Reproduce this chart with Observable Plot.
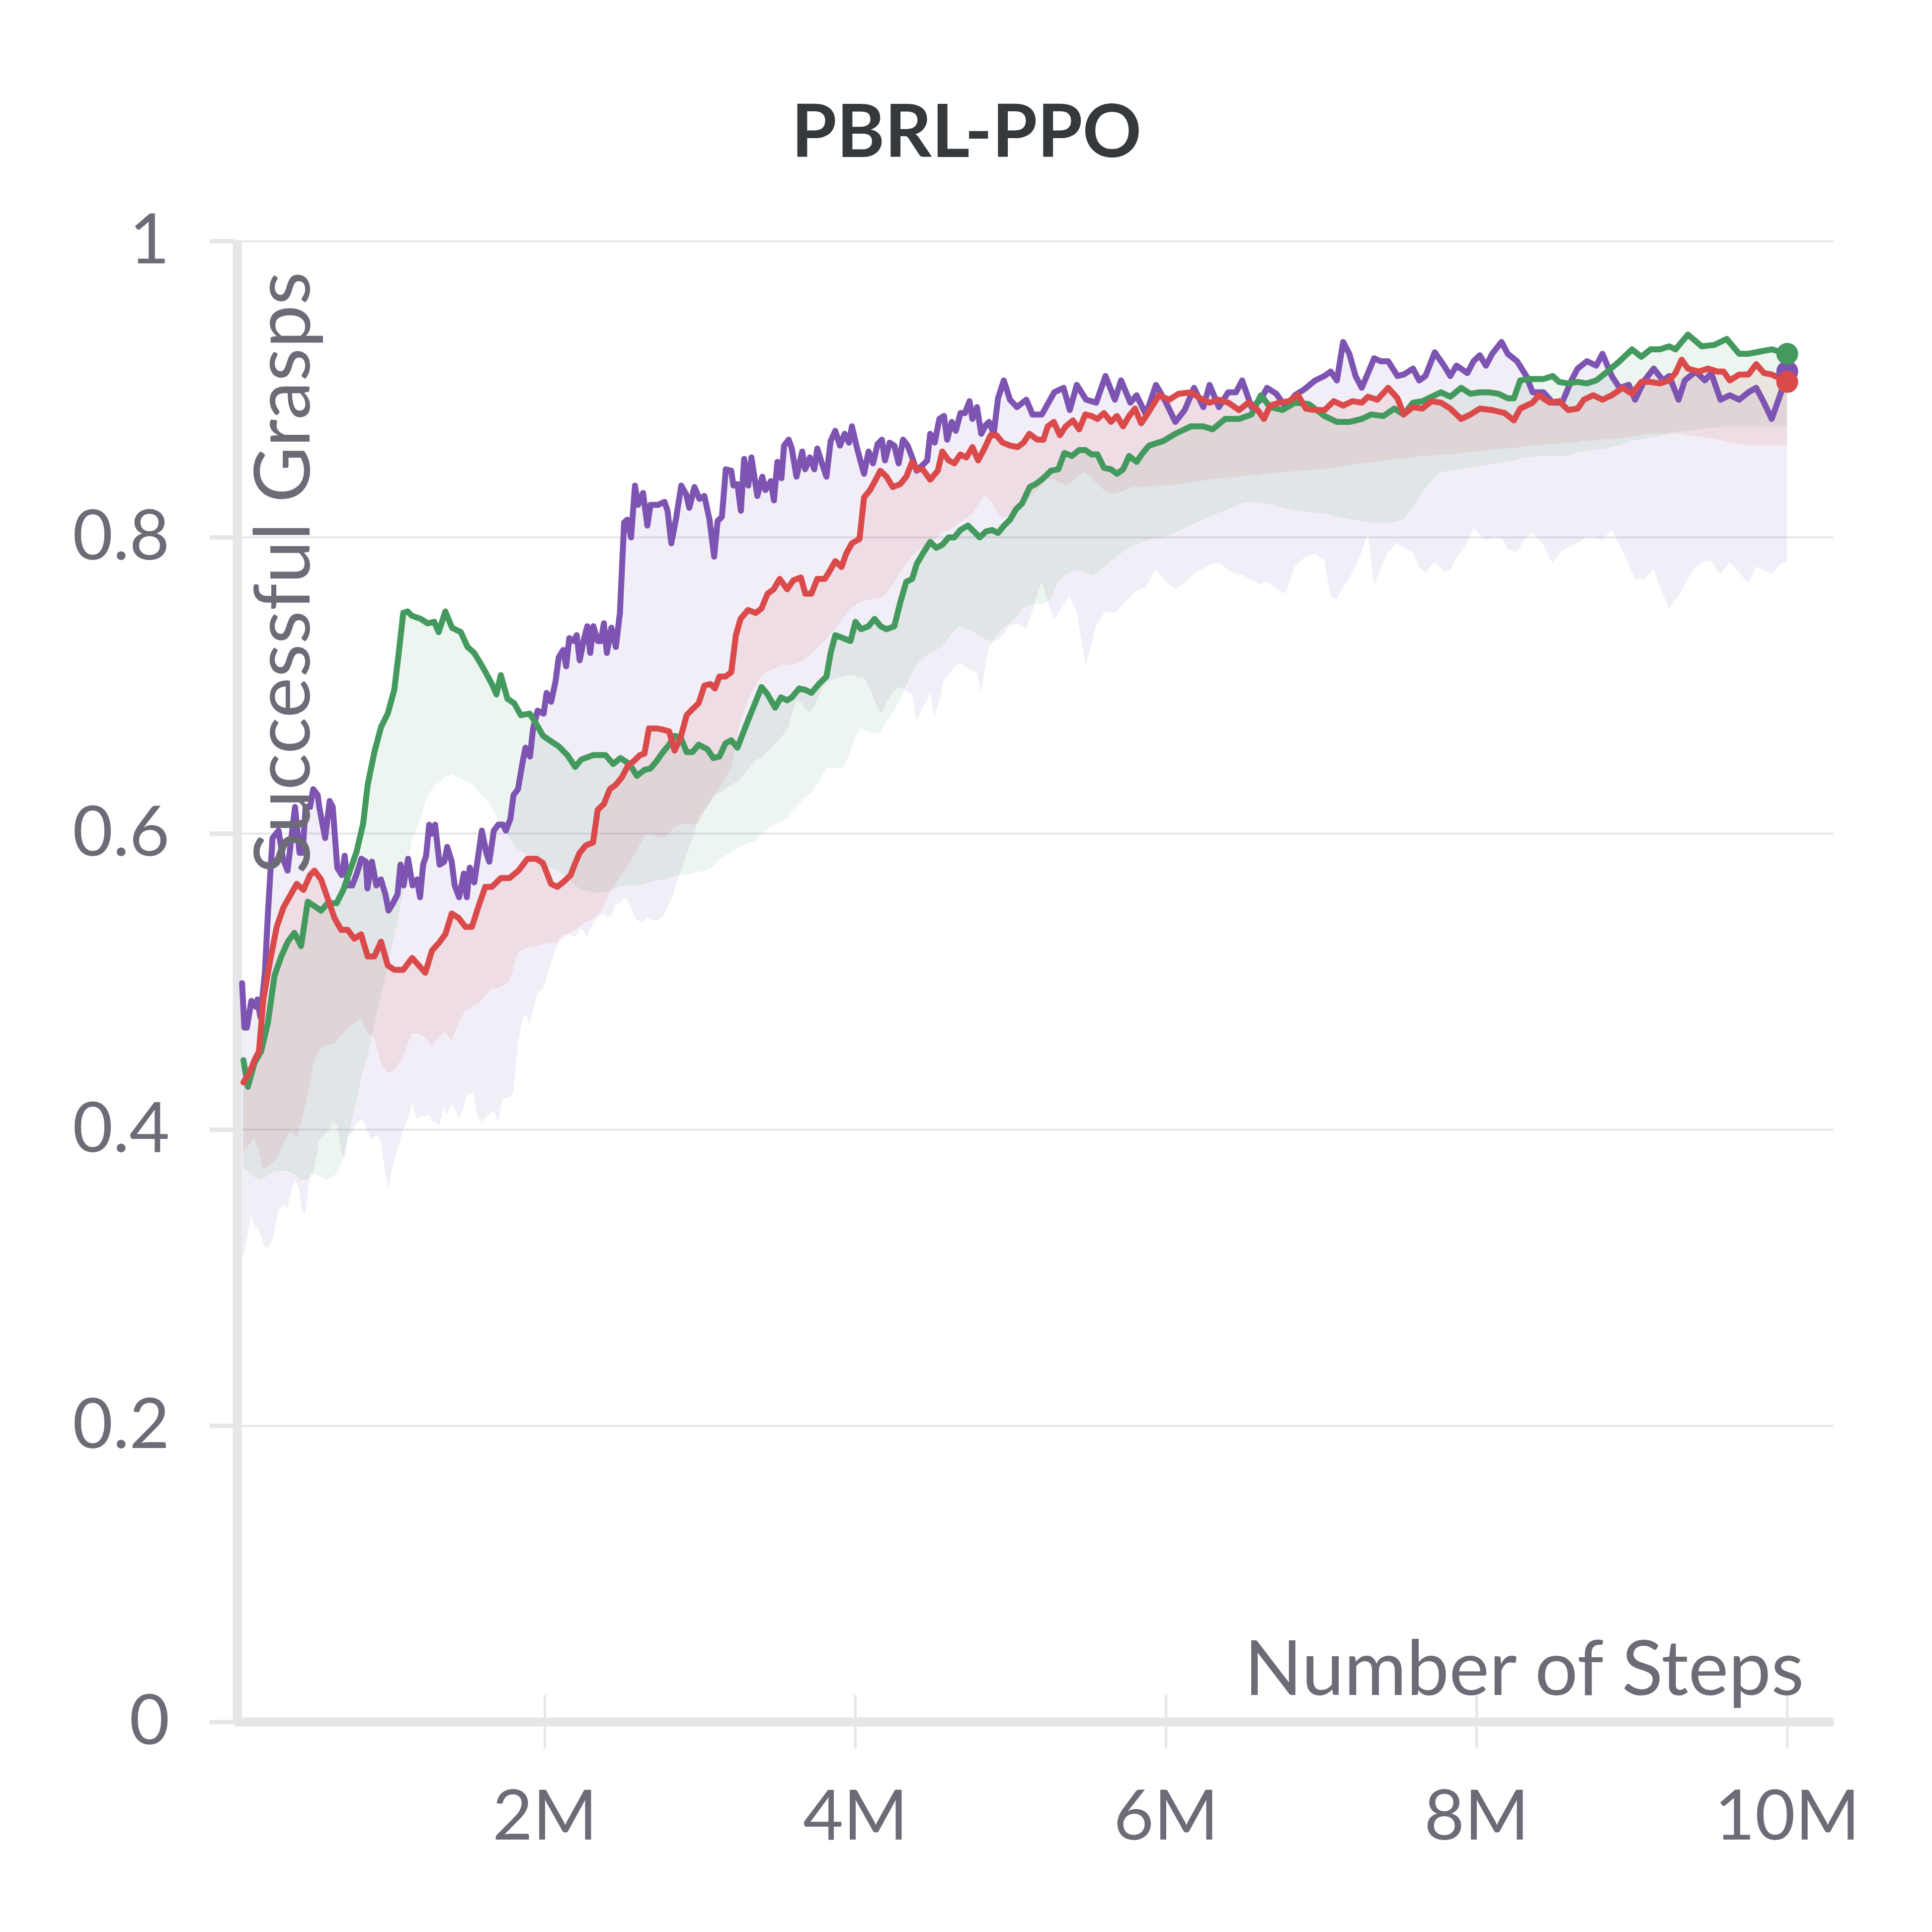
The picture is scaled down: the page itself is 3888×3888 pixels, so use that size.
<!DOCTYPE html>
<html><head><meta charset="utf-8">
<script src="https://cdn.jsdelivr.net/npm/d3@7"></script>
<script src="https://cdn.jsdelivr.net/npm/@observablehq/plot@0.6"></script>
<style>html,body{margin:0;padding:0;background:#fff;overflow:hidden}</style>
</head><body><div id="chart"></div>
<script>
const title = "PBRL-PPO";
const xLabel = "Number of Steps";
const yLabel = "Successful Grasps";
const xTicks = [2, 4, 6, 8, 10];
const yTicks = [0, 0.2, 0.4, 0.6, 0.8, 1];
const purpleColor = "#7e54b2";
const greenColor = "#449a5e";
const redColor = "#db4a4a";

// rows: [steps (millions), value, band lower bound]
const purpleRows = [[0.05,.499,.313],[0.065,.469,.317],[0.081,.469,.325],[0.11,.487,.342],[0.139,.483,.333],[0.149,.488,.335],[0.168,.476,.33],[0.197,.506,.321],[0.217,.547,.32],[0.246,.597,.325],[0.285,.602,.345],[0.314,.583,.349],[0.343,.575,.347],[0.372,.601,.36],[0.391,.618,.366],[0.42,.587,.36],[0.44,.587,.344],[0.459,.618,.343],[0.488,.618,.37],[0.508,.63,.371],[0.537,.626,.385],[0.547,.618,.393],[0.585,.597,.397],[0.614,.622,.4],[0.634,.618,.405],[0.663,.577,.403],[0.692,.572,.385],[0.711,.585,.38],[0.731,.565,.395],[0.76,.565,.398],[0.789,.573,.404],[0.818,.583,.407],[0.847,.581,.403],[0.857,.563,.399],[0.886,.581,.393],[0.915,.565,.396],[0.944,.569,.393],[0.973,.559,.372],[0.993,.548,.36],[1.022,.553,.376],[1.051,.559,.386],[1.07,.579,.393],[1.09,.565,.4],[1.119,.583,.407],[1.148,.565,.418],[1.177,.569,.407],[1.196,.557,.409],[1.216,.579,.409],[1.235,.585,.409],[1.255,.606,.41],[1.274,.6,.406],[1.293,.606,.405],[1.322,.579,.403],[1.352,.581,.415],[1.371,.591,.41],[1.4,.581,.417],[1.419,.565,.415],[1.448,.557,.407],[1.478,.573,.415],[1.497,.557,.423],[1.516,.577,.424],[1.545,.567,.425],[1.565,.581,.41],[1.594,.602,.405],[1.623,.587,.408],[1.642,.581,.41],[1.671,.602,.413],[1.7,.606,.405],[1.73,.606,.421],[1.749,.602,.421],[1.778,.61,.422],[1.798,.626,.425],[1.827,.63,.458],[1.856,.648,.474],[1.875,.658,.478],[1.904,.652,.472],[1.924,.671,.48],[1.953,.683,.492],[1.992,.681,.495],[2.011,.695,.503],[2.04,.689,.512],[2.069,.703,.522],[2.089,.719,.527],[2.118,.724,.532],[2.137,.713,.532],[2.157,.732,.532],[2.186,.73,.53],[2.205,.734,.531],[2.224,.717,.536],[2.253,.732,.534],[2.273,.74,.53],[2.292,.722,.535],[2.312,.74,.539],[2.341,.73,.543],[2.36,.73,.545],[2.38,.742,.546],[2.399,.722,.544],[2.428,.739,.544],[2.457,.726,.552],[2.483,.749,.553],[2.51,.81,.556],[2.53,.812,.556],[2.555,.8,.55],[2.58,.835,.544],[2.6,.822,.541],[2.632,.83,.54],[2.66,.808,.544],[2.68,.822,.542],[2.728,.822,.541],[2.77,.824,.545],[2.79,.818,.55],[2.814,.796,.555],[2.845,.813,.565],[2.878,.835,.575],[2.91,.829,.585],[2.93,.82,.59],[2.963,.834,.6],[2.995,.826,.612],[3.027,.828,.615],[3.06,.812,.62],[3.09,.787,.625],[3.112,.811,.627],[3.14,.814,.628],[3.165,.846,.63],[3.2,.845,.632],[3.214,.835,.634],[3.24,.836,.634],[3.262,.818,.637],[3.283,.853,.64],[3.31,.835,.643],[3.33,.854,.646],[3.368,.828,.65],[3.4,.841,.651],[3.42,.832,.654],[3.454,.838,.657],[3.475,.825,.66],[3.497,.851,.662],[3.523,.84,.665],[3.54,.862,.667],[3.57,.866,.672],[3.59,.86,.68],[3.62,.841,.69],[3.657,.858,.688],[3.676,.846,.684],[3.706,.854,.682],[3.735,.846,.685],[3.754,.86,.69],[3.784,.85,.697],[3.813,.841,.702],[3.84,.865,.703],[3.87,.872,.705],[3.9,.862,.705],[3.93,.87,.706],[3.958,.864,.707],[3.977,.875,.707],[4.006,.862,.706],[4.026,.854,.705],[4.055,.843,.705],[4.084,.858,.7],[4.113,.85,.693],[4.142,.863,.685],[4.17,.866,.681],[4.19,.852,.686],[4.22,.864,.692],[4.25,.862,.696],[4.278,.85,.699],[4.306,.866,.698],[4.336,.862,.696],[4.365,.854,.694],[4.394,.845,.676],[4.424,.848,.683],[4.462,.852,.69],[4.481,.87,.695],[4.51,.864,.678],[4.54,.88,.69],[4.57,.882,.703],[4.59,.866,.706],[4.62,.878,.71],[4.646,.872,.713],[4.676,.884,.715],[4.705,.884,.713],[4.734,.892,.711],[4.753,.88,.71],[4.782,.888,.709],[4.81,.87,.695],[4.84,.876,.715],[4.86,.878,.726],[4.89,.87,.729],[4.918,.894,.731],[4.955,.906,.734],[4.995,.893,.74],[5.04,.888,.742],[5.1,.893,.738],[5.14,.883,.75],[5.2,.883,.77],[5.28,.898,.744],[5.34,.901,.755],[5.38,.886,.76],[5.425,.903,.75],[5.485,.893,.713],[5.55,.891,.74],[5.61,.909,.75],[5.67,.893,.749],[5.71,.906,.753],[5.77,.891,.76],[5.81,.896,.764],[5.87,.883,.766],[5.935,.903,.778],[6.0,.891,.77],[6.06,.878,.765],[6.12,.886,.769],[6.18,.901,.775],[6.24,.888,.779],[6.28,.903,.781],[6.34,.888,.783],[6.4,.898,.778],[6.45,.898,.775],[6.49,.906,.775],[6.55,.888,.771],[6.61,.893,.768],[6.65,.901,.77],[6.71,.897,.765],[6.77,.888,.762],[6.83,.896,.78],[6.89,.9,.786],[6.96,.906,.789],[7.02,.909,.785],[7.06,.912,.76],[7.1,.906,.758],[7.14,.932,.766],[7.18,.924,.772],[7.22,.909,.78],[7.26,.901,.79],[7.3,.911,.803],[7.34,.921,.768],[7.38,.919,.778],[7.43,.919,.79],[7.49,.909,.796],[7.53,.91,.793],[7.59,.914,.79],[7.63,.906,.78],[7.67,.909,.776],[7.73,.925,.783],[7.79,.916,.777],[7.83,.909,.778],[7.87,.916,.786],[7.94,.911,.796],[7.98,.919,.806],[8.02,.923,.802],[8.06,.916,.798],[8.1,.924,.8],[8.16,.932,.8],[8.2,.924,.792],[8.26,.919,.79],[8.32,.909,.8],[8.36,.898,.803],[8.43,.898,.795],[8.49,.891,.782],[8.55,.891,.791],[8.61,.906,.794],[8.65,.914,.796],[8.71,.919,.8],[8.77,.916,.8],[8.81,.924,.798],[8.87,.909,.805],[8.92,.901,.795],[8.98,.903,.782],[9.02,.893,.772],[9.08,.906,.772],[9.14,.914,.778],[9.2,.906,.762],[9.24,.909,.752],[9.3,.893,.76],[9.34,.906,.768],[9.41,.912,.78],[9.47,.906,.784],[9.51,.911,.784],[9.57,.893,.775],[9.63,.896,.783],[9.69,.893,.776],[9.75,.898,.769],[9.8,.901,.78],[9.85,.891,.778],[9.9,.88,.775],[9.96,.898,.782],[10.0,.912,.783]];

const greenRows = [[0.059,.447,.374],[0.087,.429,.372],[0.13,.445,.368],[0.173,.453,.366],[0.216,.472,.369],[0.259,.504,.372],[0.302,.517,.372],[0.345,.527,.372],[0.387,.533,.37],[0.43,.524,.366],[0.473,.554,.366],[0.516,.551,.37],[0.559,.548,.368],[0.602,.553,.366],[0.659,.553,.37],[0.702,.562,.38],[0.745,.575,.4],[0.788,.588,.42],[0.83,.607,.44],[0.859,.633,.45],[0.902,.655,.47],[0.945,.672,.49],[0.988,.681,.51],[1.03,.697,.53],[1.06,.723,.545],[1.088,.749,.56],[1.116,.75,.58],[1.145,.747,.595],[1.2,.745,.61],[1.245,.742,.625],[1.288,.743,.632],[1.316,.736,.634],[1.359,.75,.638],[1.402,.739,.64],[1.459,.736,.637],[1.502,.726,.635],[1.545,.722,.632],[1.602,.712,.625],[1.659,.701,.618],[1.688,.694,.612],[1.716,.707,.606],[1.759,.691,.6],[1.802,.688,.592],[1.845,.68,.588],[1.902,.681,.585],[1.945,.674,.582],[1.988,.666,.58],[2.03,.663,.577],[2.088,.659,.575],[2.145,.653,.57],[2.195,.645,.565],[2.234,.65,.562],[2.31,.653,.56],[2.39,.653,.56],[2.44,.647,.562],[2.486,.651,.564],[2.545,.647,.565],[2.593,.639,.565],[2.641,.643,.566],[2.68,.644,.567],[2.72,.649,.568],[2.76,.655,.569],[2.8,.66,.57],[2.835,.666,.571],[2.874,.665,.572],[2.913,.655,.572],[2.95,.655,.573],[2.99,.66,.574],[3.046,.657,.575],[3.085,.651,.578],[3.124,.652,.582],[3.163,.661,.585],[3.2,.663,.587],[3.24,.658,.59],[3.28,.669,.592],[3.318,.679,.594],[3.357,.689,.595],[3.395,.699,.6],[3.434,.694,.603],[3.483,.685,.606],[3.52,.692,.608],[3.56,.69,.61],[3.59,.692,.615],[3.638,.698,.62],[3.677,.697,.624],[3.716,.695,.627],[3.764,.701,.635],[3.813,.706,.644],[3.84,.722,.644],[3.87,.734,.644],[3.92,.732,.644],[3.968,.73,.655],[4.0,.743,.665],[4.036,.738,.671],[4.084,.74,.669],[4.123,.745,.667],[4.162,.74,.668],[4.2,.738,.675],[4.25,.74,.683],[4.288,.756,.69],[4.327,.77,.7],[4.365,.772,.708],[4.394,.782,.714],[4.433,.789,.718],[4.481,.797,.722],[4.52,.793,.724],[4.559,.795,.726],[4.6,.8,.732],[4.636,.8,.737],[4.675,.805,.74],[4.724,.808,.738],[4.763,.804,.736],[4.8,.8,.733],[4.84,.804,.731],[4.88,.805,.73],[4.918,.803,.735],[4.957,.808,.739],[4.995,.812,.742],[5.034,.819,.746],[5.073,.823,.752],[5.122,.834,.754],[5.16,.836,.755],[5.21,.84,.755],[5.258,.845,.758],[5.306,.846,.77],[5.345,.857,.774],[5.394,.855,.777],[5.44,.859,.778],[5.48,.859,.776],[5.52,.856,.774],[5.558,.856,.776],[5.6,.847,.78],[5.645,.846,.784],[5.684,.843,.787],[5.723,.846,.79],[5.762,.855,.793],[5.81,.851,.795],[5.85,.857,.797],[5.89,.862,.798],[5.98,.865,.8],[6.06,.87,.803],[6.16,.875,.808],[6.24,.875,.812],[6.3,.873,.815],[6.38,.88,.818],[6.47,.88,.822],[6.55,.883,.824],[6.61,.896,.823],[6.67,.888,.822],[6.75,.886,.82],[6.83,.891,.818],[6.92,.89,.817],[7.02,.882,.816],[7.1,.878,.814],[7.18,.878,.812],[7.26,.88,.811],[7.32,.883,.81],[7.4,.882,.81],[7.47,.887,.81],[7.53,.883,.812],[7.59,.891,.82],[7.65,.892,.83],[7.71,.895,.838],[7.77,.898,.844],[7.83,.895,.845],[7.9,.901,.846],[7.96,.897,.847],[8.02,.898,.848],[8.08,.898,.849],[8.14,.897,.85],[8.2,.894,.851],[8.24,.894,.852],[8.28,.906,.853],[8.34,.907,.854],[8.43,.907,.855],[8.49,.909,.855],[8.53,.905,.855],[8.59,.904,.855],[8.65,.905,.857],[8.71,.904,.858],[8.77,.906,.859],[8.83,.911,.86],[8.92,.919,.862],[9.0,.927,.865],[9.06,.922,.866],[9.12,.927,.867],[9.18,.927,.868],[9.24,.929,.87],[9.28,.927,.871],[9.36,.937,.872],[9.45,.929,.873],[9.53,.93,.874],[9.61,.934,.875],[9.69,.924,.875],[9.75,.924,.875],[9.8,.925,.875],[9.9,.927,.875],[10.0,.924,.875]];

const redRows = [[0.059,.432,.385],[0.1,.439,.39],[0.13,.447,.395],[0.159,.453,.385],[0.187,.488,.373],[0.23,.514,.376],[0.273,.537,.38],[0.316,.55,.39],[0.359,.558,.399],[0.402,.566,.394],[0.445,.562,.41],[0.488,.572,.43],[0.516,.575,.447],[0.559,.569,.455],[0.602,.556,.457],[0.645,.543,.458],[0.688,.535,.463],[0.73,.535,.468],[0.773,.529,.472],[0.816,.532,.475],[0.859,.517,.465],[0.902,.517,.462],[0.945,.527,.445],[0.988,.511,.438],[1.03,.508,.44],[1.088,.508,.449],[1.145,.516,.465],[1.188,.511,.465],[1.23,.506,.462],[1.273,.521,.457],[1.316,.526,.462],[1.359,.532,.466],[1.4,.546,.46],[1.445,.543,.472],[1.488,.537,.48],[1.53,.537,.483],[1.573,.551,.485],[1.616,.564,.49],[1.659,.564,.495],[1.716,.57,.496],[1.773,.57,.5],[1.83,.575,.52],[1.888,.583,.523],[1.945,.583,.524],[1.988,.58,.525],[2.04,.566,.526],[2.08,.564,.526],[2.127,.568,.53],[2.166,.572,.533],[2.195,.58,.535],[2.224,.587,.537],[2.263,.592,.54],[2.31,.594,.542],[2.34,.616,.545],[2.38,.62,.55],[2.418,.63,.56],[2.457,.633,.566],[2.496,.638,.572],[2.535,.646,.578],[2.573,.649,.585],[2.612,.653,.592],[2.641,.654,.598],[2.67,.671,.6],[2.72,.671,.598],[2.767,.67,.597],[2.8,.669,.6],[2.835,.656,.604],[2.874,.665,.606],[2.913,.68,.606],[2.95,.684,.606],[2.99,.688,.607],[3.027,.7,.615],[3.066,.701,.622],[3.095,.698,.627],[3.124,.706,.63],[3.163,.706,.637],[3.2,.709,.644],[3.23,.734,.66],[3.26,.745,.675],[3.308,.751,.69],[3.357,.749,.7],[3.395,.752,.706],[3.434,.762,.709],[3.473,.765,.711],[3.512,.772,.713],[3.56,.765,.714],[3.6,.771,.714],[3.648,.773,.716],[3.677,.762,.718],[3.716,.762,.721],[3.754,.772,.725],[3.803,.772,.73],[3.832,.777,.733],[3.87,.784,.738],[3.91,.78,.744],[3.94,.789,.748],[3.977,.796,.752],[4.026,.799,.756],[4.055,.827,.757],[4.094,.832,.758],[4.13,.839,.759],[4.16,.845,.759],[4.2,.841,.762],[4.24,.834,.768],[4.288,.836,.776],[4.327,.841,.782],[4.365,.851,.787],[4.394,.846,.79],[4.433,.846,.793],[4.481,.839,.796],[4.53,.845,.8],[4.559,.858,.803],[4.6,.852,.805],[4.636,.85,.807],[4.675,.856,.81],[4.714,.854,.813],[4.753,.861,.816],[4.79,.852,.822],[4.83,.86,.828],[4.87,.869,.825],[4.908,.869,.818],[4.947,.864,.813],[4.995,.862,.815],[5.044,.861,.818],[5.082,.864,.821],[5.12,.87,.826],[5.17,.866,.832],[5.21,.866,.836],[5.238,.875,.839],[5.277,.878,.839],[5.316,.869,.837],[5.354,.875,.835],[5.4,.879,.838],[5.44,.873,.842],[5.48,.883,.844],[5.52,.882,.84],[5.558,.88,.836],[5.6,.884,.832],[5.645,.878,.829],[5.684,.882,.83],[5.723,.875,.831],[5.762,.882,.833],[5.8,.887,.834],[5.84,.877,.834],[5.89,.885,.834],[5.955,.896,.835],[6.02,.893,.835],[6.08,.897,.836],[6.16,.898,.837],[6.22,.894,.838],[6.28,.891,.839],[6.34,.893,.84],[6.4,.891,.84],[6.47,.886,.841],[6.53,.891,.842],[6.59,.886,.842],[6.63,.88,.843],[6.67,.889,.843],[6.73,.891,.844],[6.79,.892,.844],[6.85,.896,.845],[6.9,.887,.845],[6.96,.886,.846],[7.02,.886,.846],[7.08,.892,.847],[7.14,.889,.848],[7.2,.892,.849],[7.26,.891,.85],[7.3,.895,.85],[7.36,.893,.851],[7.43,.901,.852],[7.49,.894,.853],[7.53,.883,.853],[7.59,.888,.854],[7.65,.887,.855],[7.71,.892,.855],[7.77,.891,.856],[7.83,.887,.856],[7.9,.88,.857],[7.96,.883,.858],[8.02,.887,.858],[8.1,.886,.859],[8.18,.884,.86],[8.24,.879,.86],[8.28,.887,.861],[8.36,.891,.862],[8.4,.896,.862],[8.47,.891,.863],[8.53,.892,.863],[8.59,.886,.864],[8.65,.887,.864],[8.69,.893,.865],[8.75,.896,.865],[8.81,.893,.866],[8.87,.896,.866],[8.94,.901,.867],[9.0,.897,.868],[9.06,.905,.869],[9.12,.905,.87],[9.18,.904,.87],[9.24,.906,.87],[9.28,.911,.87],[9.32,.92,.87],[9.36,.914,.869],[9.43,.912,.868],[9.49,.914,.867],[9.55,.912,.866],[9.59,.912,.865],[9.63,.906,.864],[9.69,.91,.863],[9.75,.91,.862],[9.8,.917,.862],[9.85,.911,.862],[9.9,.91,.862],[10.0,.905,.862]];

const toRows = rows => rows.map(([step, value, lower]) => ({step, value, lower}));
const purple = toRows(purpleRows);
const green = toRows(greenRows);
const red = toRows(redRows);

const axisGray = "#e6e6e9";
const textGray = "#6c6b76";

const band = (data, color) => Plot.areaY(data, {x: "step", y1: "lower", y2: "value", fill: color, fillOpacity: 0.1});
const line = (data, color) => Plot.line(data, {x: "step", y: "value", stroke: color, strokeWidth: 12});
const endDot = (data, color) => Plot.dot(data.slice(-1), {x: "step", y: "value", r: 22, fill: color});

const chart = Plot.plot({
  width: 3888,
  height: 3888,
  marginLeft: 471,
  marginRight: 198,
  marginTop: 485,
  marginBottom: 423,
  x: {domain: [0, 10.3], label: null},
  y: {domain: [0, 1], label: null},
  style: {fontFamily: "Lato, 'Noto Sans', sans-serif", color: textGray, background: "#fff"},
  marks: [
    Plot.ruleY(yTicks.slice(1), {x1: 0, x2: 10.3, stroke: axisGray, strokeWidth: 4}),
    Plot.ruleY(yTicks, {x1: -0.157, x2: 0, stroke: axisGray, strokeWidth: 9}),
    Plot.ruleX(xTicks, {y1: -0.018, y2: 0.018, stroke: axisGray, strokeWidth: 5}),
    Plot.ruleX([0], {y1: 0, y2: 1, stroke: axisGray, strokeWidth: 18, dx: 6}),
    Plot.ruleY([0], {x1: 0, x2: 10.3, stroke: axisGray, strokeWidth: 18}),
    band(purple, purpleColor),
    band(green, greenColor),
    band(red, redColor),
    line(purple, purpleColor),
    line(green, greenColor),
    line(red, redColor),
    endDot(purple, purpleColor),
    endDot(green, greenColor),
    endDot(red, redColor),
    Plot.axisY({ticks: yTicks, tickSize: 0, tickPadding: 130, fontSize: 140, label: null, tickFormat: d => String(d)}),
    Plot.axisX({ticks: xTicks, tickSize: 0, tickPadding: 137, fontSize: 140, label: null, tickFormat: d => d + "M"}),
    Plot.text([title], {text: d => d, frameAnchor: "top", textAnchor: "middle", lineAnchor: "bottom", dx: -136, dy: -170, fontSize: 147, fontWeight: 700, fill: "#35393c"}),
    Plot.text([yLabel], {text: d => d, frameAnchor: "top-left", rotate: -90, textAnchor: "end", lineAnchor: "bottom", dx: 151, dy: 61, fontSize: 155, fill: textGray}),
    Plot.text([xLabel], {text: d => d, frameAnchor: "bottom-right", textAnchor: "end", lineAnchor: "bottom", dx: -60, dy: -55, fontSize: 153, fill: textGray})
  ]
});
document.getElementById("chart").appendChild(chart);
</script>
</body></html>
